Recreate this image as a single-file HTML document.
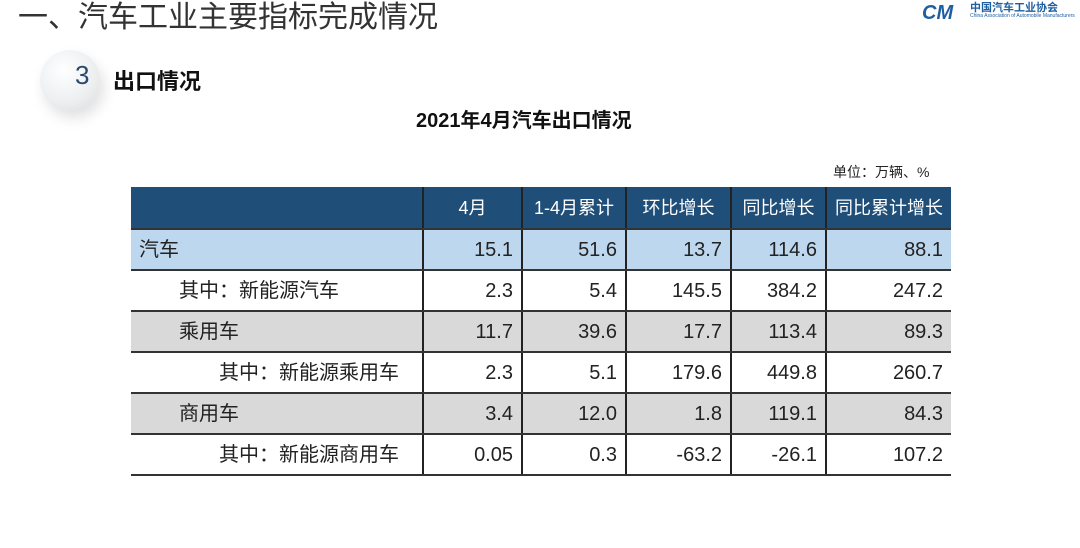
<!DOCTYPE html>
<html><head><meta charset="utf-8"><style>
body{margin:0;width:1080px;height:548px;background:#fff;position:relative;overflow:hidden;font-family:"Liberation Sans","Noto Sans CJK SC",sans-serif;}
.a{position:absolute;white-space:nowrap}
table{position:absolute;left:131px;top:187px;width:820px;table-layout:fixed;border-collapse:collapse;font-size:20px;color:#222;line-height:20px}
td{border-left:2px solid #222;border-bottom:2px solid #333;height:39px;padding:0 8px;text-align:right;vertical-align:middle;white-space:nowrap;overflow:hidden}
td:first-child{border-left:none;text-align:left}
tr.h td{background:#1f4e79;color:#fff;font-size:18px;text-align:center;height:41px;padding:0}
.b td{background:#bdd7ee}
.g td{background:#d9d9d9}
</style></head><body>
<div class="a" style="left:18px;top:-8px;font-size:30px;color:#333">一、汽车工业主要指标完成情况</div>
<div class="a" style="left:922px;top:2px;font-size:20px;font-weight:bold;font-style:italic;color:#1f5fa0">CM</div>
<div class="a" style="left:970px;top:-1px;font-size:11px;font-weight:bold;color:#1f5fa0">中国汽车工业协会</div>
<div class="a" style="left:970px;top:13px;font-size:5px;color:#1f5fa0">China Association of Automobile Manufacturers</div>
<div class="a" style="left:40px;top:50px;width:60px;height:60px;border-radius:50%;background:radial-gradient(circle at 40% 35%,#fff 0%,#eceef0 60%,#d8dadc 100%);box-shadow:4px 8px 14px rgba(0,0,0,0.12)"></div>
<div class="a" style="left:75px;top:60px;font-size:26px;color:#2a4a6a">3</div>
<div class="a" style="left:113px;top:64px;font-size:22px;font-weight:bold;color:#111">出口情况</div>
<div class="a" style="left:416px;top:104px;font-size:20px;font-weight:bold;color:#111">2021年4月汽车出口情况</div>
<div class="a" style="left:833px;top:162px;font-size:14px;color:#222">单位：万辆、%</div>
<table>
<colgroup><col style="width:292px"><col style="width:99px"><col style="width:104px"><col style="width:105px"><col style="width:95px"><col style="width:125px"></colgroup>
<tr class="h"><td></td><td>4月</td><td>1-4月累计</td><td>环比增长</td><td>同比增长</td><td>同比累计增长</td></tr>
<tr class="b"><td>汽车</td><td>15.1</td><td>51.6</td><td>13.7</td><td>114.6</td><td>88.1</td></tr>
<tr><td style="padding-left:48px">其中：新能源汽车</td><td>2.3</td><td>5.4</td><td>145.5</td><td>384.2</td><td>247.2</td></tr>
<tr class="g"><td style="padding-left:48px">乘用车</td><td>11.7</td><td>39.6</td><td>17.7</td><td>113.4</td><td>89.3</td></tr>
<tr><td style="padding-left:88px">其中：新能源乘用车</td><td>2.3</td><td>5.1</td><td>179.6</td><td>449.8</td><td>260.7</td></tr>
<tr class="g"><td style="padding-left:48px">商用车</td><td>3.4</td><td>12.0</td><td>1.8</td><td>119.1</td><td>84.3</td></tr>
<tr><td style="padding-left:88px">其中：新能源商用车</td><td>0.05</td><td>0.3</td><td>-63.2</td><td>-26.1</td><td>107.2</td></tr>
</table>
</body></html>
